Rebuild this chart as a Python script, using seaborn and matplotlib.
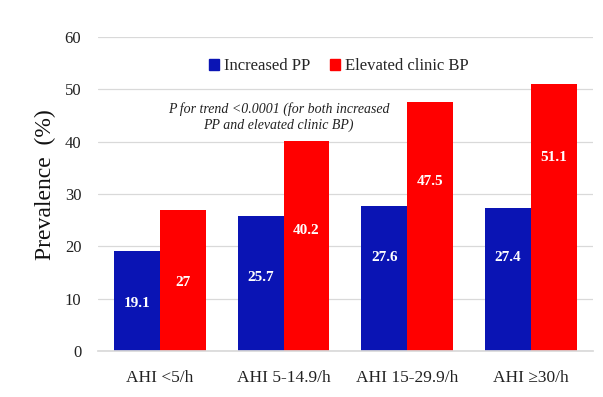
import matplotlib.pyplot as plt
import seaborn as sns
import pandas as pd

categories = ['AHI <5/h', 'AHI 5-14.9/h', 'AHI 15-29.9/h', 'AHI \u226530/h']
increased_pp = [19.1, 25.7, 27.6, 27.4]
elevated_bp = [27, 40.2, 47.5, 51.1]
pp_labels = ['19.1', '25.7', '27.6', '27.4']
bp_labels = ['27', '40.2', '47.5', '51.1']

# where the value labels sit (data units)
pp_label_y = [9.0, 14.0, 17.8, 17.8]
bp_label_y = [13.0, 23.0, 32.3, 36.9]

df = pd.DataFrame({
    'group': categories * 2,
    'series': ['Increased PP'] * 4 + ['Elevated clinic BP'] * 4,
    'value': increased_pp + elevated_bp,
})

sns.set_theme(style='white')
plt.rcParams['font.family'] = ['Liberation Serif', 'DejaVu Serif']

fig = plt.figure(figsize=(6.03, 3.97), dpi=100)
ax = fig.add_axes([0.1625, 0.116, 0.8205, 0.791])

palette = {'Increased PP': '#0A14B4', 'Elevated clinic BP': '#FF0000'}
sns.barplot(data=df, x='group', y='value', hue='series', palette=palette,
            width=0.74, gap=0, saturation=1, linewidth=0, ax=ax, legend=False)

ax.set_ylim(0, 60)
ax.set_xlim(-0.5, 3.5)
ax.set_yticks(range(0, 61, 10))
ax.grid(axis='y', color='#d9d9d9', linewidth=0.9)
ax.set_axisbelow(True)
for s in ['top', 'right', 'left']:
    ax.spines[s].set_visible(False)
ax.spines['bottom'].set_color('#d9d9d9')
ax.tick_params(axis='both', length=0, colors='#222222')
ax.tick_params(axis='y', labelsize=12, pad=12)
ax.tick_params(axis='x', labelsize=12.5, pad=14)
ax.set_xlabel('')
ax.set_ylabel('Prevalence  (%)', fontsize=17, color='#111111')
ax.yaxis.set_label_coords(-0.085, 0.53)

bw = 0.37
for i in range(4):
    ax.text(i - bw / 2, pp_label_y[i], pp_labels[i], ha='center', va='center',
            color='white', fontsize=11, fontweight='bold')
    ax.text(i + bw / 2, bp_label_y[i], bp_labels[i], ha='center', va='center',
            color='white', fontsize=11, fontweight='bold')

ax.text(0.96, 44.7, 'P for trend <0.0001 (for both increased\nPP and elevated clinic BP)',
        ha='center', va='center', fontsize=10, style='italic', color='#222222',
        linespacing=1.3)

handles = [plt.Rectangle((0, 0), 1, 1, color=palette[k]) for k in palette]
ax.legend(handles, list(palette.keys()), loc='upper center', bbox_to_anchor=(0.487, 0.98),
          ncol=2, frameon=False, fontsize=12, handlelength=0.6, handleheight=0.6,
          handletextpad=0.3, columnspacing=1.2)

fig.savefig('out.png', dpi=100)
